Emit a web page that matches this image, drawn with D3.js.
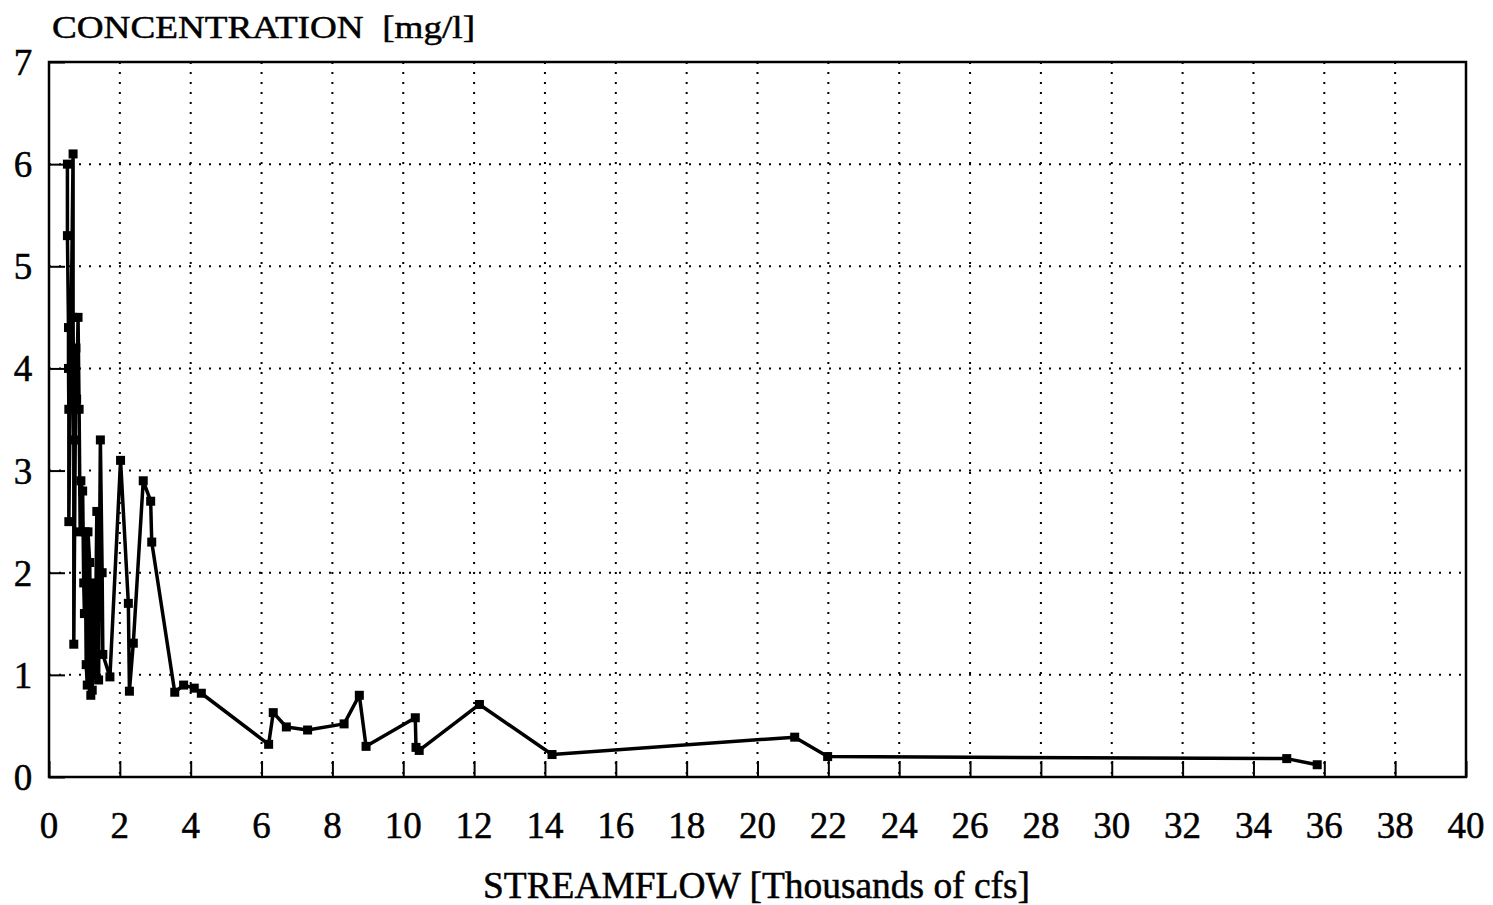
<!DOCTYPE html>
<html>
<head>
<meta charset="utf-8">
<script src="https://cdn.jsdelivr.net/npm/d3@7"></script>
<style>
  body { margin: 0; background: #fff; }
  svg { display: block; font-family: "Liberation Serif", "DejaVu Serif", serif; }
  text { fill: #000; stroke: #000; stroke-width: 0.5; }
</style>
</head>
<body>
<div id="chart"></div>
<script>
const WIDTH = 1493, HEIGHT = 905;
const LEFT = 49, RIGHT = 1466, TOP = 62, BOTTOM = 777;

// streamflow (thousands of cfs) and concentration (mg/l)
const flow = [0.52, 0.52, 0.55, 0.55, 0.56, 0.56, 0.68, 0.68, 0.70, 0.70,
    0.76, 0.78, 0.82, 0.85, 0.88, 0.90, 0.95, 0.98, 1.00, 1.02,
    1.05, 1.08, 1.10, 1.15, 1.18, 1.22, 1.25, 1.30, 1.35, 1.40,
    1.45, 1.50, 1.52, 1.72, 2.02, 2.24, 2.27, 2.38, 2.66, 2.87,
    2.90, 3.55, 3.80, 4.10, 4.30, 6.20, 6.33, 6.70, 7.30, 8.33,
    8.76, 8.95, 10.34, 10.36, 10.45, 12.15, 14.2, 21.05, 21.98, 34.94, 35.8];
const conc = [6.0, 5.3, 4.4, 4.0, 3.6, 2.5, 6.1, 4.5, 3.3, 1.3,
    4.2, 3.7, 4.5, 3.6, 2.4, 2.9, 2.8, 1.9, 1.6, 2.4,
    1.1, 0.9, 2.4, 2.1, 0.8, 0.85, 1.9, 1.0, 2.6, 0.95,
    3.3, 2.0, 1.2, 0.98, 3.1, 1.7, 0.84, 1.31, 2.9, 2.7,
    2.3, 0.83, 0.9, 0.87, 0.82, 0.32, 0.63, 0.49, 0.46, 0.52,
    0.80, 0.30, 0.58, 0.29, 0.26, 0.71, 0.22, 0.39, 0.2, 0.18, 0.12];
const xTicks = d3.range(0, 41, 2);
const yTicks = d3.range(0, 8, 1);

const data = flow.map((f, i) => ({ x: f, y: conc[i] }));

const svg = d3.select("#chart").append("svg")
    .attr("width", WIDTH)
    .attr("height", HEIGHT);

const x = d3.scaleLinear().domain([0, 40]).range([LEFT, RIGHT]);
const y = d3.scaleLinear().domain([0, 7]).range([BOTTOM, TOP]);

// dotted grid
svg.append("g").selectAll("line").data(xTicks.slice(1, -1)).join("line")
    .attr("x1", d => x(d)).attr("x2", d => x(d))
    .attr("y1", TOP).attr("y2", BOTTOM)
    .attr("stroke", "#000").attr("stroke-width", 2)
    .attr("stroke-dasharray", "2,8");
svg.append("g").selectAll("line").data(yTicks.slice(1, -1)).join("line")
    .attr("x1", LEFT).attr("x2", RIGHT)
    .attr("y1", d => y(d)).attr("y2", d => y(d))
    .attr("stroke", "#000").attr("stroke-width", 2)
    .attr("stroke-dasharray", "2,8");

// inward axes with short solid ticks
svg.append("g")
    .attr("transform", `translate(0,${BOTTOM})`)
    .call(d3.axisTop(x).tickValues(xTicks).tickSize(16).tickFormat(""))
    .call(g => g.select(".domain").remove())
    .call(g => g.selectAll("line").attr("stroke-width", 2));
svg.append("g")
    .attr("transform", `translate(${LEFT},0)`)
    .call(d3.axisRight(y).tickValues(yTicks).tickSize(16).tickFormat(""))
    .call(g => g.select(".domain").remove())
    .call(g => g.selectAll("line").attr("stroke-width", 2));

// frame
svg.append("rect")
    .attr("x", LEFT).attr("y", TOP)
    .attr("width", RIGHT - LEFT).attr("height", BOTTOM - TOP)
    .attr("fill", "none").attr("stroke", "#000").attr("stroke-width", 2.5);

// tick labels
svg.append("g").selectAll("text").data(xTicks).join("text")
    .attr("x", d => x(d)).attr("y", 825)
    .attr("text-anchor", "middle").attr("dy", "0.35em")
    .attr("font-size", 37)
    .text(d => d);
svg.append("g").selectAll("text").data(yTicks).join("text")
    .attr("x", 23).attr("y", d => y(d))
    .attr("text-anchor", "middle").attr("dy", "0.35em")
    .attr("font-size", 37)
    .text(d => d);

// titles
svg.append("text")
    .attr("x", 52).attr("y", 38)
    .attr("font-size", 32)
    .attr("xml:space", "preserve")
    .attr("textLength", 423).attr("lengthAdjust", "spacingAndGlyphs")
    .text("CONCENTRATION  [mg/l]");
svg.append("text")
    .attr("x", 483).attr("y", 885)
    .attr("dy", "0.35em")
    .attr("font-size", 37)
    .attr("textLength", 547).attr("lengthAdjust", "spacingAndGlyphs")
    .text("STREAMFLOW [Thousands of cfs]");

// series
const line = d3.line().x(d => x(d.x)).y(d => y(d.y));
svg.append("path")
    .datum(data)
    .attr("d", line)
    .attr("fill", "none").attr("stroke", "#000")
    .attr("stroke-width", 3.5).attr("stroke-linejoin", "round");
svg.append("g").selectAll("rect").data(data).join("rect")
    .attr("x", d => x(d.x) - 4.5).attr("y", d => y(d.y) - 4.5)
    .attr("width", 9).attr("height", 9)
    .attr("fill", "#000");
</script>
</body>
</html>
